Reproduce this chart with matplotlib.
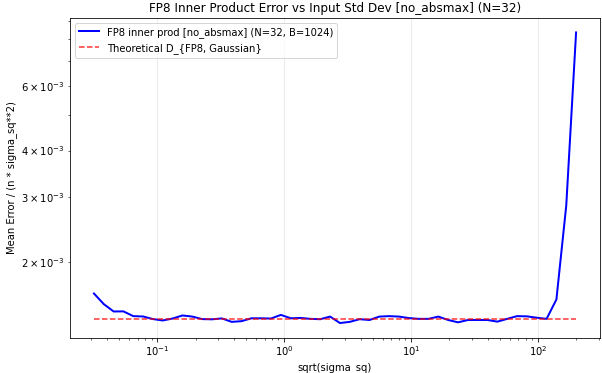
import matplotlib
matplotlib.use("Agg")
import matplotlib.pyplot as plt

sigma = [0.03162, 0.03780, 0.04518, 0.05401, 0.06457, 0.07719, 0.09232, 0.1104, 0.1319, 0.1577,
         0.1886, 0.2254, 0.2695, 0.3222, 0.3852, 0.4605, 0.5505, 0.6581, 0.7868, 0.9407,
         1.125, 1.345, 1.607, 1.922, 2.297, 2.747, 3.284, 3.926, 4.693, 5.611,
         6.708, 8.019, 9.586, 11.46, 13.70, 16.38, 19.58, 23.41, 27.99, 33.46,
         40.00, 47.82, 57.17, 68.34, 81.71, 97.68, 116.8, 139.6, 166.9, 199.5]

err = [1.64e-3, 1.535e-3, 1.466e-3, 1.467e-3, 1.424e-3, 1.421e-3, 1.398e-3, 1.386e-3, 1.403e-3, 1.430e-3,
       1.420e-3, 1.398e-3, 1.396e-3, 1.404e-3, 1.374e-3, 1.380e-3, 1.405e-3, 1.405e-3, 1.403e-3, 1.435e-3,
       1.405e-3, 1.408e-3, 1.400e-3, 1.397e-3, 1.420e-3, 1.364e-3, 1.374e-3, 1.397e-3, 1.390e-3, 1.420e-3,
       1.424e-3, 1.420e-3, 1.407e-3, 1.400e-3, 1.400e-3, 1.420e-3, 1.390e-3, 1.370e-3, 1.390e-3, 1.390e-3,
       1.390e-3, 1.376e-3, 1.400e-3, 1.424e-3, 1.422e-3, 1.410e-3, 1.400e-3, 1.58e-3, 2.84e-3, 8.36e-3]

theory = 1.40e-3

fig, ax = plt.subplots(figsize=(602 / 72, 373 / 72), dpi=72)
ax.plot(sigma, err, color="blue", linewidth=2, label="FP8 inner prod [no_absmax] (N=32, B=1024)")
ax.plot([sigma[0], sigma[-1]], [theory, theory], "r--", linewidth=1.5, alpha=0.8,
        label="Theoretical D_{FP8, Gaussian}")
ax.set_xscale("log")
ax.set_yscale("log")
ax.set_xlabel("sqrt(sigma_sq)")
ax.set_ylabel("Mean Error / (n * sigma_sq**2)")
ax.set_title("FP8 Inner Product Error vs Input Std Dev [no_absmax] (N=32)")
ax.grid(True, alpha=0.3)
ax.legend(loc="upper left")
fig.subplots_adjust(left=0.116, right=0.997, top=0.952, bottom=0.095)
fig.savefig("out.png", dpi=72)
